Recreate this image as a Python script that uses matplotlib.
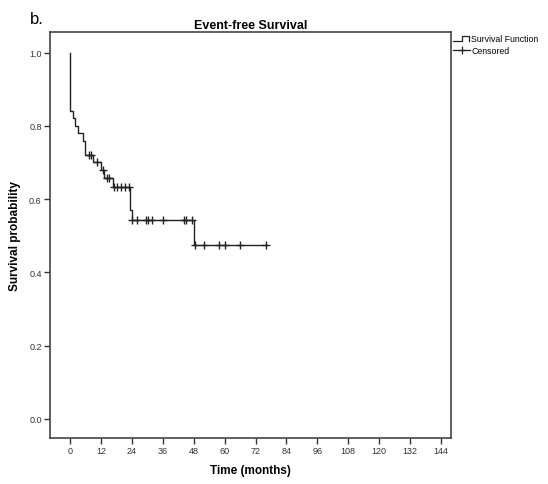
import matplotlib
matplotlib.use('Agg')
import matplotlib.pyplot as plt
from matplotlib.lines import Line2D
import numpy as np

plt.rcParams['font.family'] = ['Liberation Sans', 'DejaVu Sans']

# step function: event times and survival after each event
event_times = [0.0, 1.2, 2.0, 3.1, 4.9, 5.9, 9.0, 11.9, 13.3, 16.6, 23.3, 23.9, 48.3]
surv_after = [0.841, 0.821, 0.799, 0.781, 0.759, 0.720, 0.702, 0.680, 0.658, 0.633, 0.571, 0.543, 0.475]
censor_times = [7.5, 8.3, 10.3, 12.6, 14.5, 15.3, 17.2, 18.1, 19.7, 21.2, 22.8,
                24.2, 25.9, 29.4, 30.1, 31.9, 36.2, 44.1, 44.9, 47.4,
                48.6, 52.1, 58.0, 60.3, 66.1, 76.2]
xticks = list(range(0, 145, 12))
yticks = [0.0, 0.2, 0.4, 0.6, 0.8, 1.0]

fig = plt.figure(figsize=(5.48, 4.85), dpi=100)
ax = fig.add_axes([50/548, 1-439/485, 401/548, 406/485])

# build step curve
xs = [0.0]
ys = [1.0]
for t, s in zip(event_times, surv_after):
    xs += [t, t]
    ys += [ys[-1], s]
xs.append(max(censor_times))
ys.append(ys[-1])
ax.plot(xs, ys, color='#222222', lw=1.0)

def surv_at(t):
    s = 1.0
    for et, sv in zip(event_times, surv_after):
        if et <= t:
            s = sv
    return s

cy = [surv_at(t) for t in censor_times]
ax.plot(censor_times, cy, linestyle='none', marker='+', markersize=5.5,
        mew=1.0, color='#222222')

ax.set_xlim(-7.8, 147.9)
ax.set_ylim(-0.052, 1.056)
ax.set_xticks(xticks)
ax.set_yticks(yticks)
ax.set_yticklabels(['%.1f' % v for v in yticks])
ax.tick_params(direction='out', length=4, width=1, color='#333333',
               labelsize=6.5, labelcolor='#333333', pad=2)
for sp in ax.spines.values():
    sp.set_color('#444444')
    sp.set_linewidth(1.2)

ax.set_xlabel('Time (months)', fontsize=8.5, fontweight='bold', labelpad=6)
ax.set_ylabel('Survival probability', fontsize=8.5, fontweight='bold', labelpad=6)
ax.set_title('Event-free Survival', fontsize=9, fontweight='bold', pad=3)

fig.text(30/548, 1-24/485, 'b.', fontsize=12, ha='left', va='baseline')

# legend outside on the right
def fx(px):
    return px / 548
def fy(py):
    return 1 - py / 485
fig.add_artist(Line2D([fx(453), fx(461.7), fx(461.7), fx(469.3), fx(469.3)],
                      [fy(41.5), fy(41.5), fy(36.7), fy(36.7), fy(41.5)],
                      color='#222222', lw=0.9))
fig.add_artist(Line2D([fx(453), fx(470)], [fy(51), fy(51)], color='#222222', lw=0.9))
fig.add_artist(Line2D([fx(461.5)], [fy(51)], marker='+', markersize=6,
                      mew=0.9, color='#222222', linestyle='none'))
fig.text(fx(471), fy(40), 'Survival Function', fontsize=6.3, va='center', ha='left')
fig.text(fx(471), fy(51), 'Censored', fontsize=6.3, va='center', ha='left')

fig.savefig('out.png', dpi=100)
